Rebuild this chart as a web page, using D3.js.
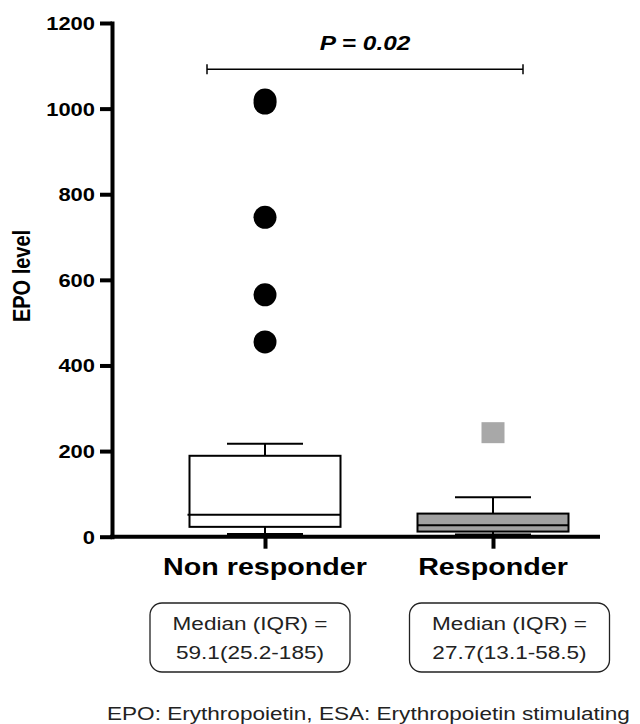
<!DOCTYPE html>
<html>
<head>
<meta charset="utf-8">
<title>EPO level box plot</title>
<script src="https://d3js.org/d3.v7.min.js"></script>
<style>
body { margin: 0; background: #fff; }
text { font-family: "Liberation Sans", Arial, sans-serif; fill: #000; }
</style>
</head>
<body>
<svg class="chart" width="640" height="724"></svg>
<script>
// data
var groups = ["Non responder", "Responder"];
var whiskerLow = [5, 4];
var quartile1 = [23, 12];
var medians = [51, 27];
var quartile3 = [189, 54];
var whiskerHigh = [217, 92];
var outliersNon = [455, 565, 746, 1013, 1020];
var outliersResp = [243];
var yTicks = [0, 200, 400, 600, 800, 1000, 1200];
var summaryLines = [
  ["Median (IQR) =", "59.1(25.2-185)"],
  ["Median (IQR) =", "27.7(13.1-58.5)"]
];
var pLabel = "P = 0.02";
var bracketValue = 1092;
var footnote = "EPO: Erythropoietin, ESA: Erythropoietin stimulating";

var stretch = 1.22; // source picture is widened horizontally
var svg = d3.select(".chart");

var y = d3.scaleLinear().domain([0, 1200]).range([536.7, 23]);
var x = d3.scalePoint().domain(groups).range([265, 493]);
var boxW = 151, capW = 76;

// y axis
var yAxis = d3.axisLeft(y).tickValues(yTicks).tickSize(12).tickSizeOuter(0).tickFormat(d3.format("d"));
var gy = svg.append("g").attr("transform", "translate(112,0)").call(yAxis);
gy.select(".domain").attr("stroke", "#000").attr("stroke-width", 4).attr("stroke-linecap", "square");
gy.selectAll(".tick line").attr("stroke", "#000").attr("stroke-width", 4);
gy.selectAll(".tick text")
  .attr("x", null).attr("dy", null)
  .attr("transform", "translate(-17,6.5) scale(" + stretch + ",1)")
  .style("font-size", "18px").style("font-weight", "bold");

// x axis
var xAxis = d3.axisBottom(x).tickSize(12).tickFormat("");
var gx = svg.append("g").attr("transform", "translate(0," + y(0) + ")").call(xAxis);
gx.select(".domain").remove();
gx.selectAll(".tick line").attr("stroke", "#000").attr("stroke-width", 4);
gx.append("line").attr("x1", 110).attr("x2", 600)
  .attr("stroke", "#000").attr("stroke-width", 4);

// category labels
svg.selectAll(".cat").data(groups).enter().append("text")
  .attr("class", "cat")
  .attr("transform", function(d){ return "translate(" + x(d) + ",575) scale(" + stretch + ",1)"; })
  .attr("text-anchor", "middle")
  .style("font-size", "23.5px").style("font-weight", "bold")
  .text(function(d){ return d; });

// y label
svg.append("text")
  .attr("transform", "translate(30,276) scale(" + stretch + ",1) rotate(-90)")
  .attr("text-anchor", "middle")
  .style("font-size", "20px").style("font-weight", "bold")
  .text("EPO level");

// boxes
var fills = ["#ffffff", "#a0a0a0"];
groups.forEach(function(g, i){
  var cx = x(g);
  var b = svg.append("g").attr("stroke", "#000").attr("stroke-width", 2);
  // whiskers
  b.append("line").attr("x1", cx).attr("x2", cx).attr("y1", y(quartile3[i])).attr("y2", y(whiskerHigh[i]));
  b.append("line").attr("x1", cx - capW/2).attr("x2", cx + capW/2).attr("y1", y(whiskerHigh[i])).attr("y2", y(whiskerHigh[i]));
  b.append("line").attr("x1", cx).attr("x2", cx).attr("y1", y(quartile1[i])).attr("y2", y(whiskerLow[i]));
  b.append("line").attr("x1", cx - capW/2).attr("x2", cx + capW/2).attr("y1", y(whiskerLow[i])).attr("y2", y(whiskerLow[i]))
    .attr("stroke-width", 3);
  b.append("rect")
    .attr("x", cx - boxW/2).attr("width", boxW)
    .attr("y", y(quartile3[i])).attr("height", y(quartile1[i]) - y(quartile3[i]))
    .attr("fill", fills[i]);
  b.append("line").attr("x1", cx - boxW/2 - (i === 0 ? 2 : 0)).attr("x2", cx + boxW/2)
    .attr("y1", y(medians[i])).attr("y2", y(medians[i]));
});

// outliers
svg.selectAll(".dot").data(outliersNon).enter().append("circle")
  .attr("class", "dot")
  .attr("cx", x(groups[0])).attr("cy", function(d){ return y(d); })
  .attr("r", 11.5).attr("fill", "#000");
svg.selectAll(".sq").data(outliersResp).enter().append("rect")
  .attr("class", "sq")
  .attr("x", x(groups[1]) - 11.5).attr("y", function(d){ return y(d) - 10.5; })
  .attr("width", 23).attr("height", 21).attr("fill", "#a8a8a8");

// significance bracket
var bx1 = x(groups[0]) - 58, bx2 = x(groups[1]) + 30, by = y(bracketValue);
var br = svg.append("g").attr("stroke", "#000").attr("stroke-width", 1.5);
br.append("line").attr("x1", bx1).attr("x2", bx2).attr("y1", by).attr("y2", by);
br.append("line").attr("x1", bx1).attr("x2", bx1).attr("y1", by - 5).attr("y2", by + 5);
br.append("line").attr("x1", bx2).attr("x2", bx2).attr("y1", by - 5).attr("y2", by + 5);
svg.append("text")
  .attr("transform", "translate(" + ((bx1 + bx2) / 2) + ",50) scale(" + stretch + ",1)")
  .attr("text-anchor", "middle")
  .style("font-size", "20px").style("font-weight", "bold").style("font-style", "italic")
  .text(pLabel);

// summary boxes
var boxCenters = [250, 509.5];
summaryLines.forEach(function(lines, i){
  var cx = boxCenters[i];
  svg.append("rect")
    .attr("x", cx - 100).attr("y", 603).attr("width", 200).attr("height", 69)
    .attr("rx", 12).attr("fill", "none").attr("stroke", "#222").attr("stroke-width", 1.3);
  lines.forEach(function(t, j){
    svg.append("text")
      .attr("transform", "translate(" + cx + "," + (630 + j * 29) + ") scale(" + stretch + ",1)")
      .attr("text-anchor", "middle")
      .style("font-size", "18.5px").style("fill", "#222")
      .text(t);
  });
});

// footnote
svg.append("text")
  .attr("transform", "translate(107,720) scale(" + stretch + ",1)")
  .style("font-size", "18.5px").style("fill", "#222")
  .text(footnote);
</script>
</body>
</html>
